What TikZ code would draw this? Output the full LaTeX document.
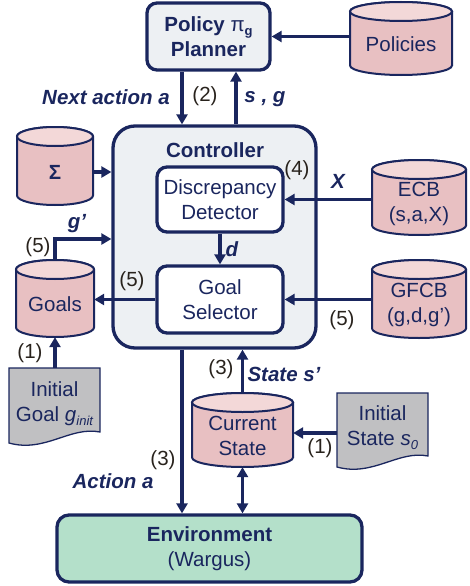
\documentclass[tikz,border=0pt]{standalone}
\usepackage{fontspec}
\setmainfont{Liberation Sans}
\usetikzlibrary{arrows.meta,calc}

\definecolor{navy}{RGB}{26,38,94}
\definecolor{cylpink}{RGB}{232,192,194}
\definecolor{cyltop}{RGB}{243,216,216}
\definecolor{docgray}{RGB}{192,192,194}
\definecolor{ctrlfill}{RGB}{237,240,243}
\definecolor{envgreen}{RGB}{180,224,202}
\definecolor{stepnum}{RGB}{40,34,28}

\newcommand\fs{\fontsize{20.5}{25}\selectfont}
\newcommand\subtxt[1]{\raisebox{-4pt}{\fontsize{13}{13}\selectfont #1}}

% database cylinder: name, centre x, centre y (down), width, height, text
\newcommand\dbcyl[6]{%
  \pgfmathsetmacro\cylL{#2-(#4)/2}%
  \pgfmathsetmacro\cylR{#2+(#4)/2}%
  \pgfmathsetmacro\cylT{-(#3)+(#5)/2}%
  \pgfmathsetmacro\cylB{-(#3)-(#5)/2}%
  \pgfmathsetmacro\cylrx{(#4)/2}%
  \path[fill=cylpink, draw=navy, line width=2pt]
    (\cylL,\cylT-9.5) -- (\cylL,\cylB+9.5)
    arc[start angle=180, end angle=360, x radius=\cylrx, y radius=9.5]
    -- (\cylR,\cylT-9.5)
    arc[start angle=0, end angle=180, x radius=\cylrx, y radius=9.5] -- cycle;
  \path[fill=cyltop, draw=navy, line width=2pt]
    (#2,\cylT-9.5) ellipse[x radius=\cylrx, y radius=9.5];
  \node[minimum width=#4, minimum height=#5, inner sep=0pt] (#1) at (#2,-#3) {};
  \node[txt] (#1-t) at (#2,-#3-6) {#6};
}

% document sheet with wavy bottom: name, left, top, right, bottom, text
\newcommand\docsheet[6]{%
  \path[fill=docgray, draw=navy, line width=1.3pt]
    (#2,-#3) -- (#4,-#3) -- (#4,-#5+11)
    .. controls (#4-30,-#5+17) and (#2+36,-#5-10) .. (#2,-#5) -- cycle;
  \node[minimum width=#4-#2, minimum height=#5-#3, inner sep=0pt]
    (#1) at ({(#2+#4)/2},{-(#3+#5)/2}) {};
  \node[txt] (#1-t) at ({(#2+#4)/2},{-(#3+#5)/2+2}) {#6};
}

\begin{document}
\begin{tikzpicture}[x=1pt, y=1pt,
  every node/.style={font=\fs},
  txt/.style={text=navy, align=center},
  box/.style={draw=navy, line width=3.3pt, rounded corners=10pt,
              align=center, text=navy, inner sep=0pt},
  flow/.style={draw=navy, line width=3.3pt,
               -{Triangle[length=10pt,width=11pt]}},
  lbl/.style={text=navy, font=\fs\bfseries\itshape},
  num/.style={text=stepnum}]

\useasboundingbox (0,0) rectangle (469,-586);

% ---------- boxes ----------
\node[box, fill=ctrlfill, minimum width=123, minimum height=67,
      font=\fs\bfseries] (planner) at (208.5,-36.5)
      {Policy {\mdseries π}\subtxt{g}\\Planner};

\node[box, fill=ctrlfill, rounded corners=22pt,
      minimum width=203, minimum height=222] (ctrl) at (214.5,-237) {};
\node[txt, font=\fs\bfseries] (ctrl-t) at (215,-150) {Controller};

\node[box, fill=white, minimum width=126, minimum height=65]
      (dd) at (220,-199.5) {Discrepancy\\Detector};
\node[box, fill=white, minimum width=126, minimum height=67]
      (gs) at (220,-299.5) {Goal\\Selector};

\node[box, fill=envgreen, rounded corners=12pt,
      minimum width=305, minimum height=67] (env) at (209.5,-548.5)
      {\textbf{Environment}\\(Wargus)};

% ---------- stores ----------
\dbcyl{pol}{401}{38.5}{102}{73}{Policies}
\dbcyl{sigma}{55}{166}{76}{78}{\textbf{Σ}}
\dbcyl{ecb}{419}{197.5}{94}{75}{ECB\\(s,a,X)}
\dbcyl{gfcb}{419}{299}{94}{78}{GFCB\\(g,d,g’)}
\dbcyl{goals}{55}{298.5}{78}{77}{Goals}
\dbcyl{cs}{242.5}{430}{101}{74}{Current\\State}

% ---------- initial inputs ----------
\docsheet{ig}{9}{368}{100}{443}{Initial\\Goal \textit{g}\subtxt{\itshape init}}
\docsheet{is}{337}{393}{428}{467}{Initial\\State \textit{s}\subtxt{\itshape 0}}

% ---------- connector rows / columns ----------
\coordinate (xa) at (182,0);
\coordinate (xb) at (236,0);
\coordinate (ysig) at (0,-172);
\coordinate (ygp) at (0,-239);
\coordinate (yis) at (0,-433);

% ---------- connectors ----------
\draw[flow] (planner.south -| xa) -- (ctrl.north -| xa);
\draw[flow] (ctrl.north -| xb) -- (planner.south -| xb);
\draw[flow] (pol.west |- planner.east) -- (planner.east);
\draw[flow] (sigma.east |- ysig) -- (ctrl.west |- ysig);
\draw[flow] (ecb.west |- dd.east) -- (dd.east);
\draw[flow] (gfcb.west |- gs.east) -- (gs.east);
\draw[flow] (dd.south) -- (gs.north);
\draw[flow] (gs.west) -- (goals.east |- gs.west);
\draw[flow] (goals.north) -- (goals.north |- ygp) -- (ctrl.west |- ygp);
\draw[flow] (ig.north -| goals.south) -- (goals.south);
\draw[flow] (ctrl.south -| xa) -- (env.north -| xa);
\draw[flow] (cs.north) -- (ctrl.south -| cs.north);
\draw[flow, {Triangle[length=10pt,width=11pt]}-{Triangle[length=10pt,width=11pt]}]
      (cs.south) -- (env.north -| cs.south);
\draw[flow] (is.west |- yis) -- (cs.east |- yis);

% ---------- labels ----------
\node[num] (n2) at (205,-96) {(2)};
\node[lbl] (lna) at (106,-97) {Next action a};
\node[lbl] (lsg) at (265,-99) {s , g};
\node[num] (n4) at (297,-170) {(4)};
\node[lbl] (lx) at (338,-181) {X};
\node[lbl] (ld) at (232,-249) {d};
\node[num] (n5a) at (132,-281) {(5)};
\node[lbl] (lgp) at (77,-224) {g’};
\node[num] (n5b) at (38,-247) {(5)};
\node[num] (n5c) at (342,-320) {(5)};
\node[num] (n1a) at (30,-353) {(1)};
\node[num] (n3a) at (221,-369) {(3)};
\node[lbl] (lss) at (284,-374) {State s’};
\node[num] (n3b) at (163,-460) {(3)};
\node[lbl] (lact) at (113,-481) {Action a};
\node[num] (n1b) at (320,-448) {(1)};

\end{tikzpicture}
\end{document}
